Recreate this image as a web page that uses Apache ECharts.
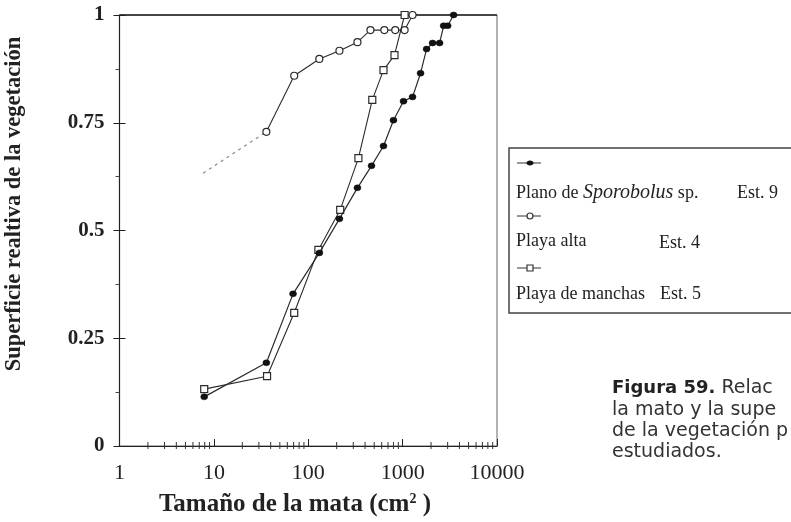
<!DOCTYPE html>
<html>
<head>
<meta charset="utf-8">
<script src="https://cdn.jsdelivr.net/npm/echarts@6/dist/echarts.min.js"></script>
<style>
html,body{margin:0;padding:0;background:#fff;}
#chart{width:791px;height:522px;}
</style>
</head>
<body>
<div id="chart"></div>
<script>
// ---- data ----
const sporobolusX = [7.9, 36, 69, 131, 214, 332, 468, 627, 800, 1022, 1274, 1549, 1794, 2077, 2465, 2718, 3000, 3470];
const sporobolusY = [0.114, 0.193, 0.353, 0.448, 0.527, 0.599, 0.650, 0.696, 0.756, 0.800, 0.810, 0.865, 0.921, 0.935, 0.935, 0.975, 0.975, 1.0];

const altaX = [7.7, 36, 71, 131, 214, 332, 456, 640, 835, 1050, 1274];
const altaY = [0.633, 0.729, 0.859, 0.898, 0.917, 0.937, 0.965, 0.965, 0.965, 0.965, 1.0];

const manchasX = [7.9, 36.6, 71, 128, 218, 340, 477, 627, 820, 1050];
const manchasY = [0.132, 0.162, 0.309, 0.455, 0.548, 0.668, 0.803, 0.872, 0.907, 1.0];

const xMinorTicks = [2,3,4,5,6,7,8,9,20,30,40,50,60,70,80,90,200,300,400,500,600,700,800,900,2000,3000,4000,5000,6000,7000,8000,9000];
const xTickLabels = ['1', '10', '100', '1000', '10000'];
const yTickLabels = ['0', '0.25', '0.5', '0.75', '1'];

const seriesNames = ['Plano de Sporobolus sp. Est. 9', 'Playa alta Est. 4', 'Playa de manchas Est. 5'];

const zip = (xs, ys) => xs.map((x, i) => [x, ys[i]]);

const chart = echarts.init(document.getElementById('chart'), null, {renderer: 'canvas'});
const serif = '"Liberation Serif", "Times New Roman", serif';
const sans = '"DejaVu Sans", sans-serif';
const lineCol = '#2b2b2b';

const altaAll = zip(altaX, altaY);

const option = {
  animation: false,
  backgroundColor: '#fff',
  grid: {left: 119.5, right: 294, top: 15, bottom: 76, show: true, borderColor: '#666', borderWidth: 1},
  xAxis: [{
    type: 'log', logBase: 10, min: 1, max: 10000,
    axisLine: {show: true, lineStyle: {color: '#222', width: 1.2}},
    axisTick: {show: true, inside: true, length: 7, lineStyle: {color: '#222'}},
    minorTick: {show: false},
    splitLine: {show: false},
    axisLabel: {fontFamily: serif, fontSize: 22, color: '#222', margin: 16,
      formatter: v => xTickLabels[Math.round(Math.log10(v))]}
  }],
  yAxis: [{
    type: 'value', min: 0, max: 1, interval: 0.25,
    axisLine: {show: true, lineStyle: {color: '#222', width: 1.2}},
    axisTick: {show: true, length: 6, lineStyle: {color: '#222'}},
    minorTick: {show: true, splitNumber: 2, length: 4, lineStyle: {color: '#444'}},
    splitLine: {show: false},
    axisLabel: {fontFamily: serif, fontSize: 21, fontWeight: 'bold', color: '#222', margin: 15,
      formatter: v => yTickLabels[Math.round(v * 4)]}
  }, {
    type: 'value', min: 0, max: 1, interval: 0.25, position: 'left',
    axisLine: {show: false},
    axisTick: {show: true, inside: true, length: 6, lineStyle: {color: '#222'}},
    axisLabel: {show: false},
    splitLine: {show: false}
  }],
  series: [
    {
      name: 'xminor', type: 'custom', clip: false, silent: true,
      data: xMinorTicks.map(v => [v, 0]),
      encode: {x: 0, y: 1},
      renderItem: (params, api) => {
        const p = api.coord([api.value(0), 0]);
        return {type: 'line', shape: {x1: p[0], y1: p[1] - 4, x2: p[0], y2: p[1] + 3},
          style: {stroke: '#333', lineWidth: 1}};
      }
    },
    {
      name: 'alta-inicio', type: 'line', data: altaAll.slice(0, 2), symbol: 'none',
      lineStyle: {color: '#888', width: 1.2, type: [3, 4]}, z: 2
    },
    {
      name: seriesNames[1], type: 'line', data: altaAll.slice(1),
      symbol: 'circle', symbolSize: 7,
      itemStyle: {color: '#fff', borderColor: lineCol, borderWidth: 1.2},
      lineStyle: {color: lineCol, width: 1.1}, z: 3
    },
    {
      name: seriesNames[2], type: 'line', data: zip(manchasX, manchasY),
      symbol: 'rect', symbolSize: 7,
      itemStyle: {color: '#fff', borderColor: lineCol, borderWidth: 1.2},
      lineStyle: {color: lineCol, width: 1.1}, z: 4
    },
    {
      name: seriesNames[0], type: 'line', data: zip(sporobolusX, sporobolusY),
      symbol: 'circle', symbolSize: [7, 6],
      itemStyle: {color: '#111', borderColor: '#111', borderWidth: 0.5},
      lineStyle: {color: lineCol, width: 1.2}, z: 5
    }
  ],
  graphic: [
    // top frame line (darker in the original)
    {type: 'line', shape: {x1: 119.5, y1: 15, x2: 497, y2: 15}, style: {stroke: '#222', lineWidth: 1.6}, z: 1},
    // axis titles
    {type: 'text', x: 14, y: 204, rotation: Math.PI / 2,
      style: {text: 'Superficie realtiva de la vegetación', font: 'bold 22.5px ' + serif,
        fill: '#222', align: 'center', verticalAlign: 'middle'}},
    {type: 'text', x: 295, y: 505,
      style: {text: 'Tamaño de la mata (cm{sup|2} )', font: 'bold 25px ' + serif, fill: '#222',
        align: 'center', verticalAlign: 'middle',
        rich: {sup: {font: 'bold 14px ' + serif, verticalAlign: 'top', padding: [0, 0, 12, 0], fill: '#222'}}}},
    // legend box
    {type: 'rect', shape: {x: 509, y: 148, width: 320, height: 165},
      style: {fill: '#fff', stroke: '#444', lineWidth: 1.5}, z: 10},
    {type: 'line', shape: {x1: 517, y1: 163, x2: 541, y2: 163}, style: {stroke: '#333', lineWidth: 1}, z: 11},
    {type: 'ellipse', shape: {cx: 530, cy: 163, rx: 3.5, ry: 2.5}, style: {fill: '#111'}, z: 12},
    {type: 'text', x: 516, y: 193, z: 11,
      style: {text: '{a|Plano de }{i|Sporobolus}{a| sp.}', verticalAlign: 'middle',
        rich: {a: {font: '18px ' + serif, fill: '#222'}, i: {font: 'italic 20px ' + serif, fill: '#222'}}}},
    {type: 'text', x: 737, y: 193, z: 11,
      style: {text: 'Est. 9', font: '18px ' + serif, fill: '#222', verticalAlign: 'middle'}},
    {type: 'line', shape: {x1: 517, y1: 216, x2: 541, y2: 216}, style: {stroke: '#333', lineWidth: 1}, z: 11},
    {type: 'circle', shape: {cx: 530, cy: 216, r: 3}, style: {fill: '#fff', stroke: '#333', lineWidth: 1.2}, z: 12},
    {type: 'text', x: 516, y: 241, z: 11,
      style: {text: 'Playa alta', font: '18px ' + serif, fill: '#222', verticalAlign: 'middle'}},
    {type: 'text', x: 659, y: 243, z: 11,
      style: {text: 'Est. 4', font: '18px ' + serif, fill: '#222', verticalAlign: 'middle'}},
    {type: 'line', shape: {x1: 517, y1: 268, x2: 541, y2: 268}, style: {stroke: '#333', lineWidth: 1}, z: 11},
    {type: 'rect', shape: {x: 527, y: 265, width: 6, height: 6}, style: {fill: '#fff', stroke: '#333', lineWidth: 1.2}, z: 12},
    {type: 'text', x: 516, y: 294, z: 11,
      style: {text: 'Playa de manchas', font: '18px ' + serif, fill: '#222', verticalAlign: 'middle'}},
    {type: 'text', x: 660, y: 294, z: 11,
      style: {text: 'Est. 5', font: '18px ' + serif, fill: '#222', verticalAlign: 'middle'}},
    // caption
    {type: 'text', x: 612, y: 388,
      style: {text: '{b|Figura 59.} Relac', verticalAlign: 'middle', font: '19px ' + sans, fill: '#333',
        rich: {b: {font: 'bold 18px ' + sans, fill: '#222'}}}},
    {type: 'text', x: 612, y: 410,
      style: {text: 'la mato y la supe', verticalAlign: 'middle', font: '19px ' + sans, fill: '#333'}},
    {type: 'text', x: 612, y: 431,
      style: {text: 'de la vegetación p', verticalAlign: 'middle', font: '19px ' + sans, fill: '#333'}},
    {type: 'text', x: 612, y: 452,
      style: {text: 'estudiados.', verticalAlign: 'middle', font: '19px ' + sans, fill: '#333'}}
  ]
};
chart.setOption(option);
</script>
</body>
</html>
